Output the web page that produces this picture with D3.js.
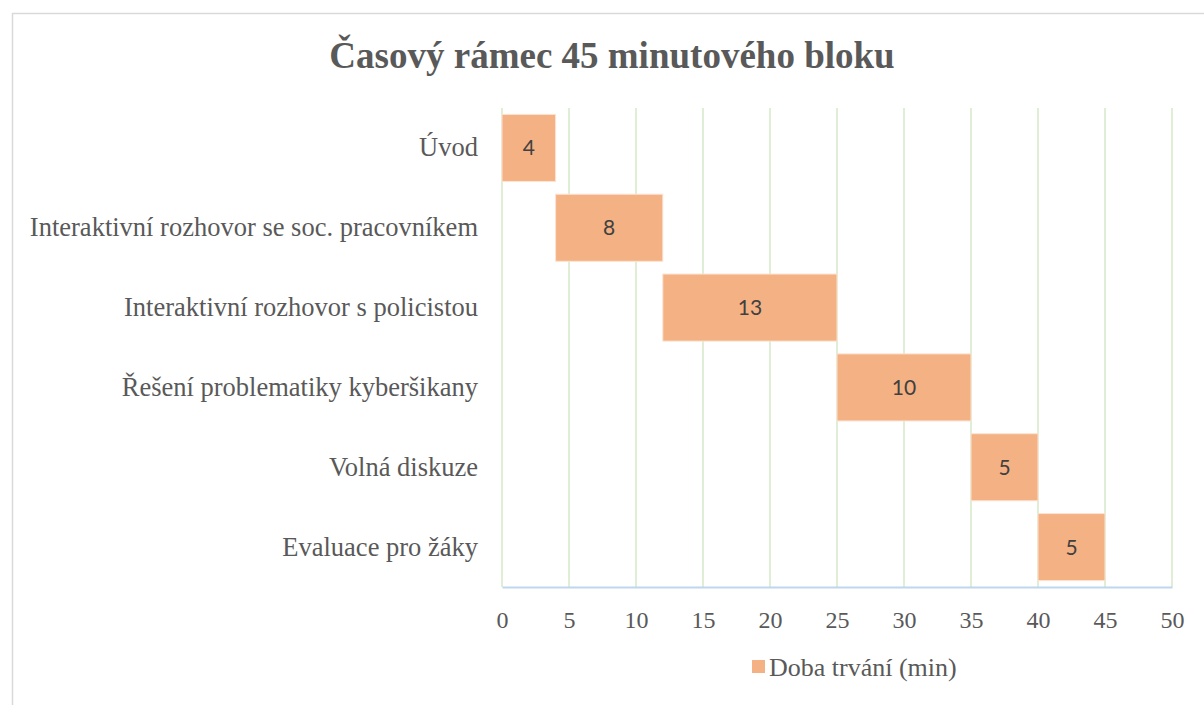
<!DOCTYPE html>
<html>
<head>
<meta charset="utf-8">
<script src="https://cdn.jsdelivr.net/npm/d3@7"></script>
<style>
  body { margin: 0; background: #fff; }
  svg { display: block; }
</style>
</head>
<body>
<div id="chart"></div>
<script>
// data
var activities = ["Úvod", "Interaktivní rozhovor se soc. pracovníkem", "Interaktivní rozhovor s policistou",
  "Řešení problematiky kyberšikany", "Volná diskuze", "Evaluace pro žáky"];
var startMin = [0, 4, 12, 25, 35, 40];
var duration = [4, 8, 13, 10, 5, 5];
var xTicks = [0, 5, 10, 15, 20, 25, 30, 35, 40, 45, 50];
var seriesName = "Doba trvání (min)";
var chartTitle = "Časový rámec 45 minutového bloku";

var svgWidth = 1204;
var svgHeight = 705;
var margin = { top: 108, right: 32, bottom: 118, left: 502 };
var width = svgWidth - margin.left - margin.right;
var height = svgHeight - margin.top - margin.bottom;

var serif = "'Liberation Serif', 'Times New Roman', serif";
var barColor = "#f4b183";

var svg = d3.select("#chart")
  .append("svg")
  .attr("width", svgWidth)
  .attr("height", svgHeight);

// chart area border
svg.append("rect")
  .attr("x", 12.5).attr("y", 13.5)
  .attr("width", 1300).attr("height", 800)
  .attr("fill", "none")
  .attr("stroke", "#d9d9d9")
  .attr("stroke-width", 1.5);

svg.append("text")
  .attr("x", 612).attr("y", 68)
  .attr("text-anchor", "middle")
  .style("font-family", serif)
  .style("font-weight", "bold")
  .style("font-size", "37px")
  .attr("fill", "#595959")
  .text(chartTitle);

var chartGroup = svg.append("g")
  .attr("transform", `translate(${margin.left}, ${margin.top})`);

var rows = activities.map(function(a, i) {
  return { name: a, start: startMin[i], dur: duration[i] };
});

// scales
var xScale = d3.scaleLinear().domain([0, 50]).range([0, width]);
var yScale = d3.scaleBand().domain(activities).range([0, height])
  .paddingInner(0.16).paddingOuter(0.08);

// vertical gridlines
chartGroup.selectAll(".grid")
  .data(xTicks)
  .enter()
  .append("line")
  .attr("x1", d => xScale(d)).attr("x2", d => xScale(d))
  .attr("y1", 0).attr("y2", height)
  .attr("stroke", "#dfeed5")
  .attr("stroke-width", 2);

// bottom axis
var bottomAxis = d3.axisBottom(xScale).tickValues(xTicks).tickSize(0).tickPadding(24);
var xAxisG = chartGroup.append("g")
  .attr("transform", `translate(0, ${height})`)
  .call(bottomAxis);
xAxisG.select(".domain").attr("stroke", "#bdd7ee").attr("stroke-width", 2);
xAxisG.selectAll("text")
  .style("font-family", serif)
  .style("font-size", "24px")
  .attr("fill", "#595959");

// left axis (labels only)
var leftAxis = d3.axisLeft(yScale).tickSize(0).tickPadding(24);
var yAxisG = chartGroup.append("g").call(leftAxis);
yAxisG.select(".domain").remove();
yAxisG.selectAll("text")
  .style("font-family", serif)
  .style("font-size", "26.5px")
  .attr("fill", "#595959");

// bars (stacked on invisible start offset)
chartGroup.selectAll(".bar")
  .data(rows)
  .enter()
  .append("rect")
  .attr("x", d => xScale(d.start))
  .attr("y", d => yScale(d.name))
  .attr("width", d => xScale(d.start + d.dur) - xScale(d.start))
  .attr("height", yScale.bandwidth())
  .attr("fill", barColor)
  .attr("stroke", "#fbe3d3")
  .attr("stroke-width", 1);

chartGroup.selectAll(".barLabel")
  .data(rows)
  .enter()
  .append("text")
  .attr("x", d => xScale(d.start + d.dur / 2))
  .attr("y", d => yScale(d.name) + yScale.bandwidth() / 2)
  .attr("dy", "0.36em")
  .attr("text-anchor", "middle")
  .style("font-family", "Lato, 'Noto Sans', sans-serif")
  .style("font-size", "21px")
  .attr("fill", "#404040")
  .text(d => d.dur);

// legend
var legend = svg.append("g").attr("transform", "translate(752, 660)");
legend.append("rect")
  .attr("width", 13).attr("height", 13)
  .attr("fill", barColor);
legend.append("text")
  .attr("x", 17).attr("y", 16)
  .style("font-family", serif)
  .style("font-size", "26px")
  .attr("fill", "#595959")
  .text(seriesName);
</script>
</body>
</html>
